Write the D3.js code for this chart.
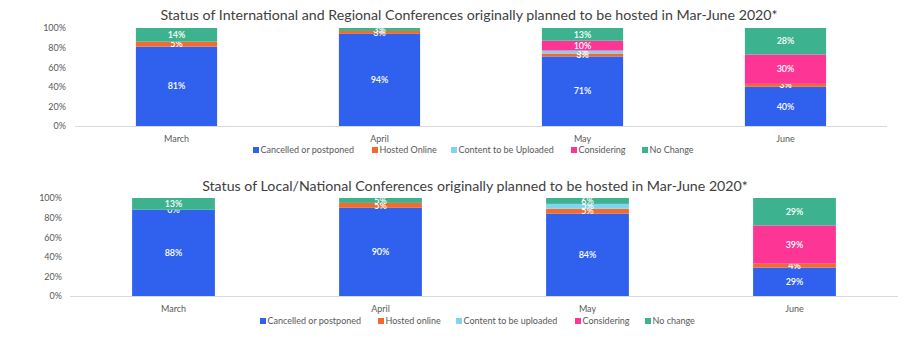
<!DOCTYPE html>
<html><head><meta charset="utf-8">
<script src="https://cdn.jsdelivr.net/npm/d3@7"></script>
<style>
body{margin:0;background:#fff;}
svg{display:block;font-family:Lato,"Open Sans",sans-serif;}
</style></head>
<body><svg id="c" width="905" height="339"></svg>
<script>
const months = ["March","April","May","June"];
const yTicks = [0,0.2,0.4,0.6,0.8,1.0];
const colors = ["#2F61EE","#F26A2E","#80D4F2","#FD3594","#3CB38E"];

// Chart 1: International and Regional
const title1 = "Status of International and Regional Conferences originally planned to be hosted in Mar-June 2020*";
const series1 = ["Cancelled or postponed","Hosted Online","Content to be Uploaded","Considering","No Change"];
const intlCancelled = [0.81,0.94,0.71,0.40];
const intlOnline    = [0.05,0.03,0.03,0.03];
const intlUpload    = [null,null,0.03,null];
const intlConsider  = [null,null,0.10,0.30];
const intlNoChange  = [0.14,0.03,0.13,0.28];

// Chart 2: Local/National
const title2 = "Status of Local/National Conferences originally planned to be hosted in Mar-June 2020*";
const series2 = ["Cancelled or postponed","Hosted online","Content to be uploaded","Considering","No change"];
const locCancelled = [0.88,0.90,0.84,0.29];
const locOnline    = [0.00,0.05,0.05,0.04];
const locUpload    = [null,null,0.05,null];
const locConsider  = [null,null,null,0.39];
const locNoChange  = [0.13,0.05,0.06,0.29];

const svg = d3.select("#c");

function drawChart(cfg){
  const g = svg.append("g");
  const vals = cfg.values;
  const x = d3.scaleBand().domain(months).range([cfg.x0,cfg.x1]).paddingInner(0.6).paddingOuter(0.3);
  const y = d3.scaleLinear().domain([0,1]).range([cfg.yBottom,cfg.yTop]);

  // title
  g.append("text").attr("x",cfg.titleX).attr("y",cfg.titleY).attr("text-anchor","middle")
    .attr("font-size",14.2).attr("fill","#404040").text(cfg.title);

  // y axis labels
  const ya = g.append("g").attr("transform",`translate(${cfg.yLabelX},0)`)
    .call(d3.axisLeft(y).tickValues(yTicks).tickFormat(d3.format(".0%")).tickSize(0).tickPadding(0));
  ya.select(".domain").remove();
  ya.selectAll("text").attr("font-size",9).attr("fill","#595959").attr("font-family","Lato,sans-serif");

  // baseline
  g.append("line").attr("x1",cfg.x0).attr("x2",cfg.x1).attr("y1",y(0)+0.5).attr("y2",y(0)+0.5)
    .attr("stroke","#D9D9D9").attr("stroke-width",1);

  // stacked bars
  months.forEach((m,i)=>{
    let acc = 0;
    vals.forEach((arr,s)=>{
      const v = arr[i];
      if(v===null) return;
      const y0 = acc, y1 = acc + v;
      acc = y1;
      const top = y(Math.min(y1,1)), bot = y(y0);
      if(bot-top>0){
        g.append("rect").attr("x",x(m)).attr("width",x.bandwidth())
          .attr("y",top).attr("height",bot-top).attr("fill",colors[s]);
      }
      g.append("text").attr("x",x(m)+x.bandwidth()/2).attr("y",(y(y0)+y(Math.min(y1,1)))/2)
        .attr("dy","0.35em").attr("text-anchor","middle").attr("font-size",9).attr("font-weight",600)
        .attr("fill","#fff").text(d3.format(".0%")(v));
    });
  });

  // x axis labels
  const xa = g.append("g").attr("transform",`translate(0,${cfg.monthY})`)
    .call(d3.axisBottom(x).tickSize(0).tickPadding(0));
  xa.select(".domain").remove();
  xa.selectAll("text").attr("font-size",9).attr("fill","#595959").attr("font-family","Lato,sans-serif").attr("dy","0");

  // legend
  const lg = g.append("g");
  cfg.series.forEach((name,s)=>{
    const lx = cfg.legendX[s];
    lg.append("rect").attr("x",lx).attr("y",cfg.legendY-6).attr("width",6).attr("height",6).attr("fill",colors[s]);
    lg.append("text").attr("x",lx+7.5).attr("y",cfg.legendY).attr("font-size",9).attr("fill","#595959").text(name);
  });
}

drawChart({
  title:title1, titleX:469, titleY:20,
  values:[intlCancelled,intlOnline,intlUpload,intlConsider,intlNoChange],
  series:series1,
  x0:75, x1:887, yTop:28, yBottom:126, yLabelX:66,
  monthY:142, legendY:153, legendX:[253,372,451,571,642]
});
drawChart({
  title:title2, titleX:475, titleY:191,
  values:[locCancelled,locOnline,locUpload,locConsider,locNoChange],
  series:series2,
  x0:70, x1:898, yTop:198, yBottom:296, yLabelX:62,
  monthY:312, legendY:324, legendX:[260,378,456,575,645]
});
</script></body></html>
